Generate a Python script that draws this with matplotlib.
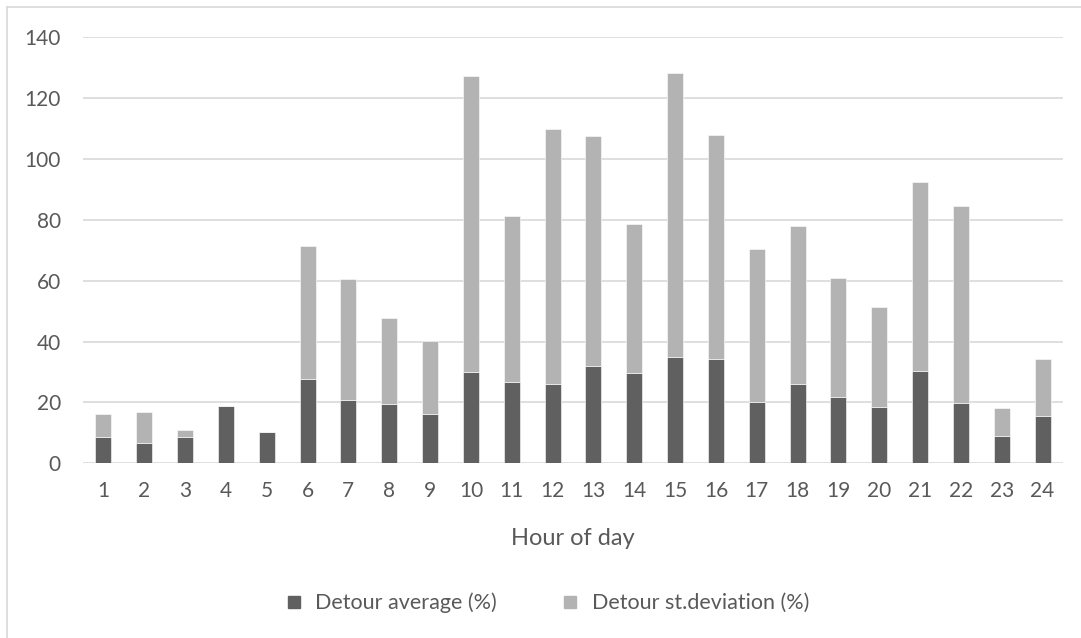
import numpy as np
import matplotlib
matplotlib.use('Agg')
import matplotlib.pyplot as plt
from matplotlib.lines import Line2D

plt.rcParams['font.family'] = ['Lato', 'DejaVu Sans']

hours = [str(h) for h in range(1, 25)]
detour_avg = [8.7, 6.8, 8.7, 18.8, 10.2, 27.7, 20.8, 19.5, 16.3, 30.0, 26.7, 26.2,
              32.1, 29.7, 34.9, 34.3, 20.1, 26.1, 21.8, 18.5, 30.3, 19.8, 9.1, 15.4]
detour_total = [16.1, 16.8, 11.0, 18.8, 10.2, 71.5, 60.6, 47.6, 40.1, 127.3, 81.4, 109.8,
                107.5, 78.7, 128.3, 107.9, 70.3, 78.0, 60.8, 51.3, 92.3, 84.6, 18.3, 34.4]
detour_std = [round(t - a, 1) for t, a in zip(detour_total, detour_avg)]

dark = '#606060'
light = '#b3b3b3'
txt = '#595959'

fig = plt.figure(figsize=(10.81, 6.38), dpi=100)
ax = fig.add_axes([83/1081, 1 - 463.3/638, 980/1081, 426/638])

x = np.arange(len(hours))
ax.bar(x, detour_avg, width=0.39, color=dark, edgecolor='white', linewidth=0.4,
       label='Detour average (%)', zorder=3)
ax.bar(x, detour_std, width=0.39, bottom=detour_avg, color=light, edgecolor='white',
       linewidth=0.4, label='Detour st.deviation (%)', zorder=3)

ax.set_xlim(-0.5, len(hours) - 0.5)
ax.set_ylim(0, 140)
ax.set_yticks(range(0, 141, 20))
ax.set_xticks(x)
ax.set_xticklabels(hours)
ax.yaxis.grid(True, color='#d9d9d9', linewidth=1.2, zorder=0)
for s in ax.spines.values():
    s.set_visible(False)
ax.tick_params(length=0, labelsize=15, labelcolor=txt)
ax.tick_params(axis='y', pad=16)
ax.tick_params(axis='x', pad=13)
ax.set_xlabel('Hour of day', fontsize=17, color=txt, labelpad=19)

handles = [Line2D([], [], marker='s', linestyle='none', markersize=8, color=dark),
           Line2D([], [], marker='s', linestyle='none', markersize=8, color=light)]
fig.legend(handles, ['Detour average (%)', 'Detour st.deviation (%)'], loc='center',
           bbox_to_anchor=(0.5, 1 - 603/638), ncol=2, frameon=False, fontsize=15.5,
           labelcolor=txt, handletextpad=0.0, columnspacing=2.4)

# outer chart border
fig.add_artist(Line2D([7/1081, 7/1081], [0, 1 - 7/638], color='#d9d9d9', linewidth=1.2))
fig.add_artist(Line2D([7/1081, 1], [1 - 7/638, 1 - 7/638], color='#d9d9d9', linewidth=1.2))

plt.savefig('out.png', dpi=100)
